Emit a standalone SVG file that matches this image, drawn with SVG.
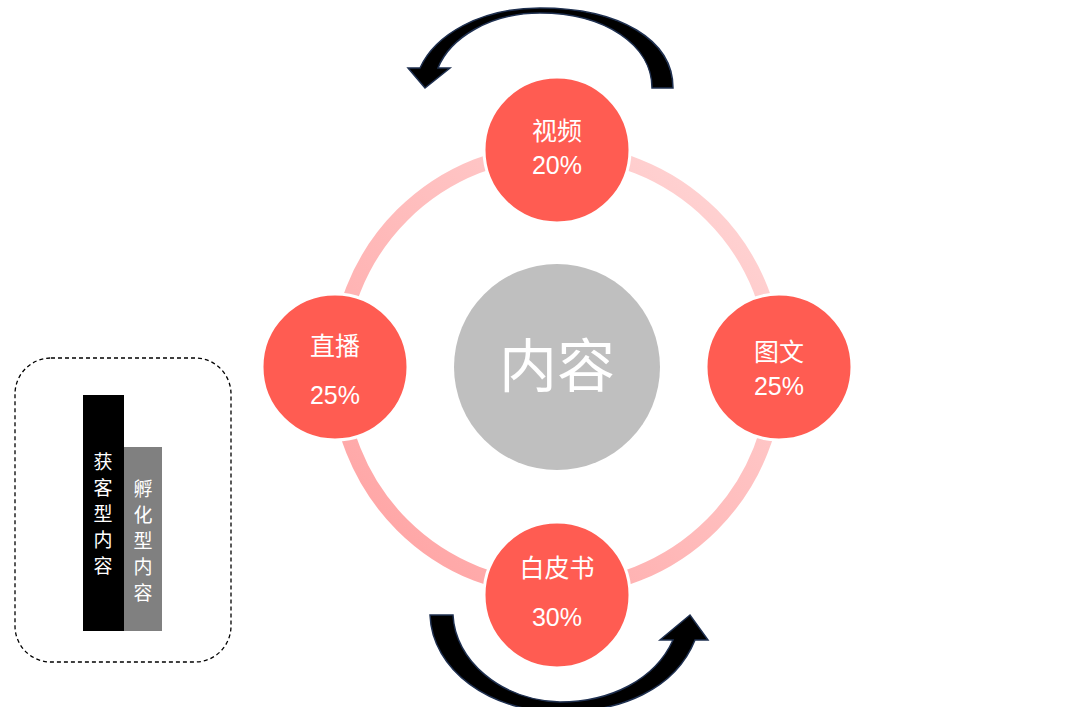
<svg xmlns="http://www.w3.org/2000/svg" width="1080" height="707" viewBox="0 0 1080 707">
<style>
.n{fill:#ff5c52;stroke:#fff;stroke-width:3}
.t{font-family:"Liberation Sans","Noto Sans CJK SC",sans-serif;fill:#fff;text-anchor:middle;font-size:25px}
.v{font-family:"Noto Sans CJK SC",sans-serif;fill:#fff;text-anchor:middle;font-size:19px}
.arr{fill:#000;stroke:#1f3050;stroke-width:1.5}
</style>
<defs>
<linearGradient id="g" x1="0" y1="1" x2="1" y2="0">
<stop offset="0" stop-color="#ffa0a0"/>
<stop offset="1" stop-color="#ffd8d8"/>
</linearGradient>
</defs>
<rect width="1080" height="707" fill="#fff"/>
<circle cx="557" cy="370" r="219" fill="none" stroke="url(#g)" stroke-width="15"/>
<g id="connectors">
<path class="arr" d="M673,88 C673,40 620,8 540,8 C480,8 435,35 420,68 L408,68 L425,88 L450,68 L438,68 C450,38 490,13 540,13 C605,13 652,45 652,88 Z"/>
<path class="arr" d="M430,615 L453,615 C455,660 500,700 560,702 C610,702 655,680 673,640 L660,640 L690,615 L708,640 L695,640 C675,690 620,712 560,712 C490,712 432,670 430,615 Z"/>
</g>
<g id="center"><circle cx="557" cy="367" r="103" fill="#bfbfbf"/><text class="t" x="557" y="387" style="font-size:58px">内容</text></g>
<g id="video"><circle class="n" cx="557" cy="150" r="73"/><text class="t" x="557" y="140">视频</text><text class="t" x="557" y="174">20%</text></g>
<g id="live"><circle class="n" cx="335" cy="367" r="73"/><text class="t" x="335" y="355">直播</text><text class="t" x="335" y="404">25%</text></g>
<g id="article"><circle class="n" cx="779" cy="367" r="73"/><text class="t" x="779" y="361">图文</text><text class="t" x="779" y="395">25%</text></g>
<g id="whitepaper"><circle class="n" cx="557" cy="595" r="73"/><text class="t" x="557" y="577">白皮书</text><text class="t" x="557" y="626">30%</text></g>
<g id="legend">
<rect x="15" y="358" width="216" height="304" rx="36" fill="none" stroke="#000" stroke-width="1.3" stroke-dasharray="4,3"/>
<rect x="83" y="395" width="41" height="236" fill="#000"/>
<rect x="124" y="447" width="38" height="184" fill="#808080"/>
<text class="v" x="103" y="469">获</text><text class="v" x="103" y="495">客</text><text class="v" x="103" y="521">型</text><text class="v" x="103" y="547">内</text><text class="v" x="103" y="573">容</text>
<text class="v" x="143" y="496">孵</text><text class="v" x="143" y="522">化</text><text class="v" x="143" y="548">型</text><text class="v" x="143" y="574">内</text><text class="v" x="143" y="600">容</text>
</g>
</svg>
